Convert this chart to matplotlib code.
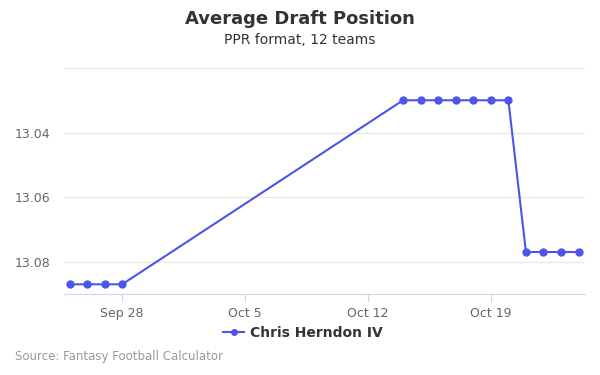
import matplotlib

matplotlib.use("Agg")
import matplotlib.pyplot as plt
import numpy as np
import pandas as pd

dates = pd.to_datetime([
    "2023-09-25", "2023-09-26", "2023-09-27", "2023-09-28",
    "2023-10-14", "2023-10-15", "2023-10-16", "2023-10-17", "2023-10-18",
    "2023-10-19", "2023-10-20",
    "2023-10-21", "2023-10-22", "2023-10-23", "2023-10-24",
])
adp = [13.087, 13.087, 13.087, 13.087,
       13.03, 13.03, 13.03, 13.03, 13.03, 13.03, 13.03,
       13.077, 13.077, 13.077, 13.077]
y_ticks = [13.02, 13.04, 13.06, 13.08]
y_labels = ["", "13.04", "13.06", "13.08"]
x_ticks = pd.to_datetime(["2023-09-28", "2023-10-05", "2023-10-12", "2023-10-19"])
x_labels = ["Sep 28", "Oct 5", "Oct 12", "Oct 19"]

color = "#4c55e8"

fig = plt.figure(figsize=(6, 3.75), dpi=100)
ax = fig.add_axes([0.1067, 0.216, 0.868, 0.6027])
ax.plot(dates, adp, color=color, lw=1.5, marker="o", ms=5, label="Chris Herndon IV")

ax.set_ylim(13.09, 13.02)
ax.set_yticks(y_ticks)
ax.set_yticklabels(y_labels)
ax.set_xlim(pd.Timestamp("2023-09-24 16:30"), pd.Timestamp("2023-10-24 08:30"))
ax.set_xticks(x_ticks)
ax.set_xticklabels(x_labels)

ax.grid(axis="y", color="#e6e6e6", lw=0.8)
ax.set_axisbelow(True)
for s in ("top", "right", "left"):
    ax.spines[s].set_visible(False)
ax.spines["bottom"].set_color("#ccd6eb")
ax.tick_params(axis="y", length=0, labelsize=9, labelcolor="#666666", pad=10)
ax.tick_params(axis="x", length=6, color="#ccd6eb", labelsize=9, labelcolor="#666666")

fig.text(0.5, 0.95, "Average Draft Position", ha="center", va="center",
         fontsize=13, fontweight="bold", color="#333333")
fig.text(0.5, 0.892, "PPR format, 12 teams", ha="center", va="center",
         fontsize=10, color="#333333")
leg = fig.legend(loc="center", bbox_to_anchor=(0.505, 0.113), frameon=False,
                 prop={"weight": "bold", "size": 10}, handlelength=1.5,
                 handletextpad=0.4, markerscale=0.8)
for t in leg.get_texts():
    t.set_color("#333333")
fig.text(0.025, 0.05, "Source: Fantasy Football Calculator", ha="left", va="center",
         fontsize=8.5, color="#999999")

fig.savefig("out.png")
